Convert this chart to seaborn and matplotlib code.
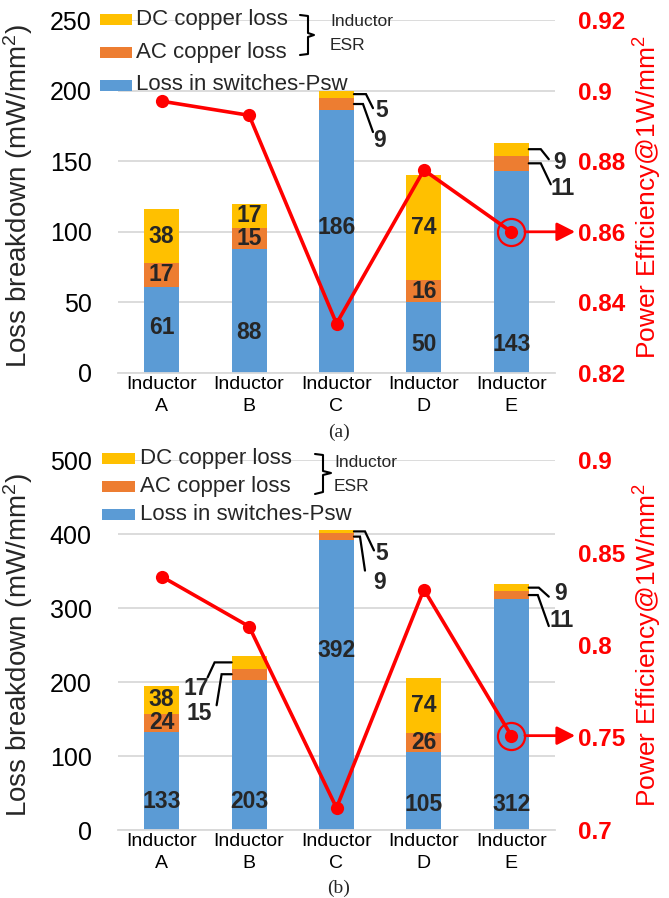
import numpy as np
import pandas as pd
import matplotlib
matplotlib.use("Agg")
import matplotlib.pyplot as plt
import seaborn as sns
from matplotlib.patches import Rectangle
from matplotlib.lines import Line2D
from matplotlib.ticker import FixedLocator, FixedFormatter

# ---------------- data ----------------
categories = ["A", "B", "C", "D", "E"]
tick_word = "Inductor"
legend_labels = ["DC copper loss", "AC copper loss", "Loss in switches-Psw"]

psw_a = [61, 88, 186, 50, 143]
ac_a = [17, 15, 9, 16, 11]
dc_a = [38, 17, 5, 74, 9]
eff_a = [0.897, 0.893, 0.834, 0.8775, 0.86]

psw_b = [133, 203, 392, 105, 312]
ac_b = [24, 15, 9, 26, 11]
dc_b = [38, 17, 5, 74, 9]
eff_b = [0.837, 0.81, 0.712, 0.83, 0.751]

left_ticks_a = [0, 50, 100, 150, 200, 250]
right_ticks_a = [0.82, 0.84, 0.86, 0.88, 0.9, 0.92]
left_ticks_b = [0, 100, 200, 300, 400, 500]
right_ticks_b = [0.7, 0.75, 0.8, 0.85, 0.9]

# ---------------- style ----------------
BLUE, ORANGE, YELLOW, RED = "#5B9BD5", "#ED7D31", "#FFC000", "#FF0000"
GRID = "#D9D9D9"
sns.set_theme(style="white")
plt.rcParams["font.family"] = ["Liberation Sans", "DejaVu Sans"]
plt.rcParams["mathtext.fontset"] = "custom"
plt.rcParams["mathtext.rm"] = "Liberation Sans"
plt.rcParams["mathtext.it"] = "Liberation Sans"
plt.rcParams["mathtext.default"] = "regular"

W, H = 669, 898
fig = plt.figure(figsize=(W / 100, H / 100), dpi=100)


def fx(px):
    return px / W


def fy(py):
    return 1 - py / H


def leader(ax, x0, y0, pts, text, tpos, fs=16.5):
    base = ax.transData.transform((x0, y0))
    inv = ax.transData.inverted()
    verts = np.array([inv.transform(base + np.array([dx, -dy])) for dx, dy in pts])
    ax.plot(verts[:, 0], verts[:, 1], color="black", lw=1.6, clip_on=False,
            solid_joinstyle="miter")
    tx, ty = inv.transform(base + np.array([tpos[0], -tpos[1]]))
    ax.text(tx, ty, text, ha="center", va="center", fontsize=fs,
            fontweight="bold", clip_on=False)


def panel(rect, psw, ac, dc, eff, lticks, rticks, blue_y, inside, callouts,
          caption, cap_y, leg):
    ax = fig.add_axes(rect)
    df = pd.DataFrame({"cat": categories, "psw": psw, "ac": ac, "dc": dc})
    df["psw_ac"] = df["psw"] + df["ac"]
    df["total"] = df["psw_ac"] + df["dc"]
    for col, c in [("total", YELLOW), ("psw_ac", ORANGE), ("psw", BLUE)]:
        sns.barplot(data=df, x="cat", y=col, color=c, width=0.4, saturation=1,
                    linewidth=0, ax=ax, zorder=2)
    ax.set_xlim(-0.5, 4.5)
    ax.set_ylim(lticks[0], lticks[-1])
    ax.set_yticks(lticks)
    ax.set_yticklabels([str(t) for t in lticks])
    pos = list(range(len(categories)))
    # two-line category labels: "Inductor" (major) over the letter (minor)
    ax.xaxis.remove_overlapping_locs = False
    ax.xaxis.set_major_locator(FixedLocator(pos))
    ax.xaxis.set_major_formatter(FixedFormatter([tick_word] * len(pos)))
    ax.xaxis.set_minor_locator(FixedLocator(pos))
    ax.xaxis.set_minor_formatter(FixedFormatter(categories))
    ax.set_xlabel("")
    ax.set_ylabel(r"Loss breakdown (mW/mm$^2$)", fontsize=20)
    ax.yaxis.set_label_coords(-0.19, 0.5)
    ax.grid(axis="y", color=GRID, lw=1.3)
    ax.set_axisbelow(True)
    for s in ["top", "left", "right"]:
        ax.spines[s].set_visible(False)
    ax.spines["bottom"].set_color(GRID)
    ax.spines["bottom"].set_linewidth(1.3)
    ax.tick_params(axis="y", length=0, pad=19, labelsize=18, labelcolor="black")
    ax.tick_params(axis="x", which="major", length=0, pad=2, labelsize=14,
                   labelcolor="black")
    ax.tick_params(axis="x", which="minor", length=0, pad=18, labelsize=14,
                   labelcolor="black")

    # value labels
    for i in range(len(categories)):
        ax.text(i, blue_y[i], str(psw[i]), ha="center", va="center",
                fontsize=16.5, fontweight="bold")
        if i in inside:
            ax.text(i, psw[i] + ac[i] / 2, str(ac[i]), ha="center", va="center",
                    fontsize=16.5, fontweight="bold")
            ax.text(i, psw[i] + ac[i] + dc[i] / 2, str(dc[i]), ha="center",
                    va="center", fontsize=16.5, fontweight="bold")
    for i, seg, side, pts, tpos in callouts:
        edge = i + 0.2 * side
        if seg == "dc":
            y0, lab = psw[i] + ac[i] + dc[i] / 2, str(dc[i])
        else:
            y0, lab = psw[i] + ac[i] / 2, str(ac[i])
        leader(ax, edge, y0, pts, lab, tpos)

    # efficiency on twin axis
    axr = ax.twinx()
    sns.lineplot(x=np.arange(len(categories)), y=eff, ax=axr, color=RED, lw=2.6,
                 marker="o", markersize=9.5, markeredgewidth=0, legend=False)
    axr.set_ylim(rticks[0], rticks[-1])
    axr.set_yticks(rticks)
    axr.set_yticklabels(["%g" % t for t in rticks], fontweight="bold")
    axr.tick_params(axis="y", length=0, pad=16.5, labelsize=17.5, labelcolor=RED)
    axr.set_ylabel(r"Power Efficiency@1W/mm$^2$", color=RED, fontsize=19)
    axr.yaxis.set_label_coords(1.175, 0.5)
    for s in axr.spines.values():
        s.set_visible(False)
    axr.plot([4], [eff[4]], marker="o", ms=19.5, mfc="none", mec=RED, mew=1.6)
    axr.annotate("", xy=(1.046, eff[4]), xycoords=("axes fraction", "data"),
                 xytext=(4, eff[4]), textcoords="data", annotation_clip=False,
                 arrowprops=dict(arrowstyle="-|>,head_length=0.55,head_width=0.28",
                                 color=RED, lw=2, shrinkA=9.8, shrinkB=0,
                                 mutation_scale=20))

    # caption
    fig.text(fx(339), fy(cap_y), caption, family="Liberation Serif", fontsize=14,
             ha="center", va="center")

    # legend (manual, Excel-like)
    (px0, px1, rows, tx, brace, esr_x, esr_y) = leg
    for (yc, c), lab in zip(zip(rows, [YELLOW, ORANGE, BLUE]), legend_labels):
        fig.add_artist(Rectangle((fx(px0), fy(yc + 5.5)), fx(px1 - px0), 11 / H,
                                 transform=fig.transFigure, color=c, lw=0))
        fig.text(fx(tx), fy(yc), lab, fontsize=16, va="center", ha="left")
    bx, by = zip(*brace)
    fig.add_artist(Line2D([fx(v) for v in bx], [fy(v) for v in by],
                          transform=fig.transFigure, color="black", lw=1.5))
    fig.text(fx(esr_x), fy(esr_y[0]), "Inductor", fontsize=12.5, va="center")
    fig.text(fx(esr_x), fy(esr_y[1]), "ESR", fontsize=12.5, va="center")
    return ax, axr


# panel (a)
rect_a = [fx(118), fy(373), fx(555) - fx(118), 353 / H]
callouts_a = [
    (2, "dc", 1, [(0, 0), (12, 0), (19, 14)], (28, 16)),
    (2, "ac", 1, [(0, 0), (9, 0), (19, 28)], (26, 36)),
    (4, "dc", 1, [(0, 0), (12, 0), (20, 10)], (31, 13)),
    (4, "ac", 1, [(0, 0), (12, 0), (22, 21)], (34, 25)),
]
leg_a = (100, 132, [19.5, 52.5, 85], 136,
         [(300, 15), (308, 16), (308, 33), (314, 35), (308, 37), (308, 54), (300, 55)],
         330, (22, 46))
panel(rect_a, psw_a, ac_a, dc_a, eff_a, left_ticks_a, right_ticks_a,
      [32, 29, 103, 20.5, 20.5], [0, 1, 3], callouts_a, "(a)", 432, leg_a)

# panel (b)
rect_b = [fx(118), fy(830), fx(555) - fx(118), 370 / H]
callouts_b = [
    (1, "dc", -1, [(0, 0), (-17, 0), (-24, 15)], (-35, 26)),
    (1, "ac", -1, [(0, 0), (-10, 0), (-15, 31)], (-32, 39)),
    (2, "dc", 1, [(0, 0), (11, 0), (20, 19)], (28, 22)),
    (2, "ac", 1, [(0, 0), (6, 0), (11, 34)], (26, 46)),
    (4, "dc", 1, [(0, 0), (10, 0), (20, 9)], (32, 6)),
    (4, "ac", 1, [(0, 0), (9, 0), (20, 31)], (33, 25)),
]
leg_b = (102, 135, [458, 486, 514], 140,
         [(315, 454), (323, 455), (323, 471), (331, 473), (323, 475), (323, 492), (315, 494)],
         334, (463, 486))
panel(rect_b, psw_b, ac_b, dc_b, eff_b, left_ticks_b, right_ticks_b,
      [38, 38, 243, 35, 35], [0, 3], callouts_b, "(b)", 888, leg_b)

fig.savefig("out.png", dpi=100)
